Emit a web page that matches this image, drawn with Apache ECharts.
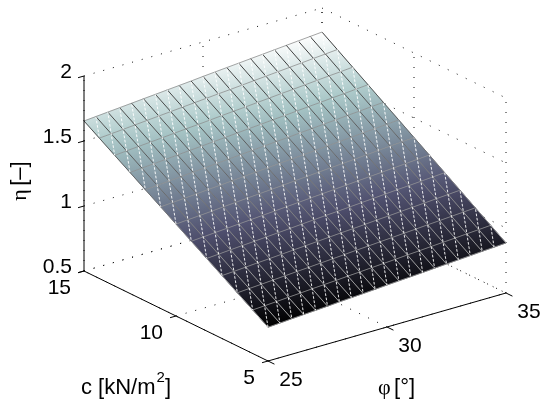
<!DOCTYPE html>
<html><head><meta charset="utf-8">
<style>html,body{margin:0;padding:0;background:#fff}#c{width:542px;height:405px}</style>
<script src="https://cdn.jsdelivr.net/npm/echarts@6/dist/echarts.min.js"></script>
</head><body><div id="c"></div>
<script>
const phiValues=[25,25.5,26,26.5,27,27.5,28,28.5,29,29.5,30,30.5,31,31.5,32,32.5,33,33.5,34,34.5,35];
const cValues=[5,5.833,6.667,7.5,8.333,9.167,10,10.833,11.667,12.5,13.333,14.167,15];
const etaRow0=[.760,.766,.773,.779,.785,.791,.798,.804,.810,.816,.823,.829,.835,.841,.848,.854,.860,.866,.873,.879,.885];
const etaRow1=[.835,.841,.847,.854,.860,.867,.873,.879,.886,.892,.899,.905,.911,.918,.924,.931,.937,.943,.950,.956,.963];
const etaRow2=[.909,.916,.922,.929,.935,.942,.948,.955,.961,.968,.975,.981,.988,.994,1.001,1.007,1.014,1.020,1.027,1.033,1.040];
const etaRow3=[.984,.990,.997,1.004,1.010,1.017,1.024,1.030,1.037,1.044,1.051,1.057,1.064,1.071,1.077,1.084,1.091,1.097,1.104,1.111,1.118];
const etaRow4=[1.058,1.065,1.072,1.079,1.085,1.092,1.099,1.106,1.113,1.120,1.127,1.133,1.140,1.147,1.154,1.161,1.168,1.174,1.181,1.188,1.195];
const etaRow5=[1.133,1.140,1.147,1.154,1.161,1.168,1.175,1.182,1.189,1.196,1.203,1.210,1.217,1.224,1.231,1.238,1.245,1.252,1.259,1.266,1.273];
const etaRow6=[1.207,1.214,1.221,1.228,1.236,1.243,1.250,1.257,1.264,1.271,1.279,1.286,1.293,1.300,1.307,1.314,1.321,1.329,1.336,1.343,1.350];
const etaRow7=[1.282,1.289,1.296,1.303,1.311,1.318,1.325,1.333,1.340,1.347,1.355,1.362,1.369,1.376,1.384,1.391,1.398,1.406,1.413,1.420,1.428];
const etaRow8=[1.356,1.363,1.371,1.378,1.386,1.393,1.401,1.408,1.416,1.423,1.431,1.438,1.445,1.453,1.460,1.468,1.475,1.483,1.490,1.498,1.505];
const etaRow9=[1.431,1.438,1.446,1.453,1.461,1.469,1.476,1.484,1.491,1.499,1.507,1.514,1.522,1.529,1.537,1.545,1.552,1.560,1.567,1.575,1.583];
const etaRow10=[1.505,1.513,1.521,1.528,1.536,1.544,1.552,1.559,1.567,1.575,1.583,1.590,1.598,1.606,1.614,1.621,1.629,1.637,1.645,1.652,1.660];
const etaRow11=[1.580,1.587,1.595,1.603,1.611,1.619,1.627,1.635,1.643,1.651,1.659,1.666,1.674,1.682,1.690,1.698,1.706,1.714,1.722,1.730,1.738];
const etaRow12=[1.654,1.662,1.670,1.678,1.686,1.694,1.702,1.710,1.718,1.726,1.735,1.743,1.751,1.759,1.767,1.775,1.783,1.791,1.799,1.807,1.815];
const etaRows=[etaRow0,etaRow1,etaRow2,etaRow3,etaRow4,etaRow5,etaRow6,etaRow7,etaRow8,etaRow9,etaRow10,etaRow11,etaRow12];
const phiTicks=[25,30,35];
const cTicks=[5,10,15];
const etaTicks=[0.5,1,1.5,2];
const etaTickLabels=['0.5','1','1.5','2'];

const PHI=[25,35],CC=[5,15],ETA=[0.5,2];
function proj(phi,c,eta){
  const a=(phi-PHI[0])/(PHI[1]-PHI[0]), b=(c-CC[0])/(CC[1]-CC[0]), h=(eta-ETA[0])/(ETA[1]-ETA[0]);
  return [268+238*a-184*b, 361-68*a-90*b-195*h];
}
const BONE=[[0,0,0,0],[.375,.319,.319,.444],[.75,.652,.777,.777],[1,1,1,1]];
const etaMin=etaRow0[0], etaMax=etaRow12[20];
function tOf(v){return (v-etaMin)/(etaMax-etaMin);}
function bone(v){
  const t=Math.max(0,Math.min(1,tOf(v)));
  for(let i=1;i<BONE.length;i++){ if(t<=BONE[i][0]){
    const A=BONE[i-1],B=BONE[i],f=(t-A[0])/(B[0]-A[0]);
    const m=k=>Math.round(255*(A[k]+(B[k]-A[k])*f));
    return `rgb(${m(1)},${m(2)},${m(3)})`; } }
  return '#fff';
}
function grey(v,lo,hi){const g=Math.round(lo+(hi-lo)*tOf(v));return `rgb(${g},${g},${g})`;}

const triangles=[],rowSegs=[],colSegs=[],diagRuns=[];
const nR=cValues.length,nC=phiValues.length;
for(let i=0;i<nR;i++)for(let j=0;j<nC;j++){
  const R=i+1<nR,C=j+1<nC;
  if(R&&C){triangles.push([i,j,i,j+1,i+1,j+1]);triangles.push([i,j,i+1,j+1,i+1,j]);}
  if(C)rowSegs.push([i,j,i,j+1]);
  if(R)colSegs.push([i,j,i+1,j]);
  if((i===0||j===0)&&R&&C){const run=[];let a=i,b=j;while(a<nR&&b<nC){run.push([a,b]);a++;b++;}diagRuns.push(run);}
}
function P(api,i,j){return api.coord(proj(phiValues[j],cValues[i],etaRows[i][j]));}
function triItem(params,api){
  const d=triangles[params.dataIndex];
  const ps=[P(api,d[0],d[1]),P(api,d[2],d[3]),P(api,d[4],d[5])];
  const vs=[etaRows[d[0]][d[1]],etaRows[d[2]][d[3]],etaRows[d[4]][d[5]]];
  const e1=[ps[1][0]-ps[0][0],ps[1][1]-ps[0][1]],e2=[ps[2][0]-ps[0][0],ps[2][1]-ps[0][1]];
  const det=e1[0]*e2[1]-e1[1]*e2[0],d1=vs[1]-vs[0],d2=vs[2]-vs[0];
  const gx=(d1*e2[1]-d2*e1[1])/det,gy=(e1[0]*d2-e2[0]*d1)/det,g2=gx*gx+gy*gy||1;
  let lo=0,hi=0;vs.forEach((v,k)=>{if(v<vs[lo])lo=k;if(v>vs[hi])hi=k;});
  const dv=vs[hi]-vs[lo];
  const s=ps[lo],ex=s[0]+gx*dv/g2,ey=s[1]+gy*dv/g2;
  const grad=new echarts.graphic.LinearGradient(s[0],s[1],ex,ey,[{offset:0,color:bone(vs[lo])},{offset:1,color:bone(vs[hi])}],true);
  return {type:'polygon',shape:{points:ps},style:{fill:grad,stroke:grad,lineWidth:.6}};
}
function segItem(list,styleFn){
  return function(params,api){
    const d=list[params.dataIndex];
    const a=P(api,d[0],d[1]),b=P(api,d[2],d[3]);
    const v=(etaRows[d[0]][d[1]]+etaRows[d[2]][d[3]])/2;
    return {type:'line',shape:{x1:a[0],y1:a[1],x2:b[0],y2:b[1]},style:styleFn(v)};
  };
}
function diagItem(params,api){
  const pts=diagRuns[params.dataIndex].map(q=>P(api,q[0],q[1]));
  return {type:'polyline',shape:{points:pts},style:{fill:'none',stroke:'#fff',lineWidth:.9,lineDash:[2.6,1.7],lineDashOffset:(params.dataIndex*1.37)%4.3}};
}
const gridLines=[];
etaTicks.forEach(z=>{gridLines.push([25,15,z,35,15,z]);gridLines.push([35,15,z,35,5,z]);});
phiTicks.forEach(p=>{gridLines.push([p,15,.5,p,15,2]);gridLines.push([p,5,.5,p,15,.5]);});
cTicks.forEach(c=>{gridLines.push([35,c,.5,35,c,2]);gridLines.push([25,c,.5,35,c,.5]);});
const axisLines=[[25,15,.5,25,15,2],[25,15,.5,25,5,.5],[25,5,.5,35,5,.5]];
etaTicks.forEach(z=>axisLines.push([25,15,z,24.75,15,z]));
cTicks.forEach(c=>axisLines.push([25,c,.5,24.75,c,.5]));
phiTicks.forEach(p=>axisLines.push([p,5,.5,p,4.65,.5]));
function line3(list,style){
  return function(params,api){
    const d=list[params.dataIndex];
    const a=api.coord(proj(d[0],d[1],d[2])),b=api.coord(proj(d[3],d[4],d[5]));
    return {type:'line',shape:{x1:a[0],y1:a[1],x2:b[0],y2:b[1]},style};
  };
}
const FONT='21px "Liberation Sans",Arial,sans-serif';
const NAMEFONT='22px "Liberation Sans",Arial,sans-serif';
const texts=[];
etaTicks.forEach((z,i)=>{const p=proj(25,15,z);texts.push({text:etaTickLabels[i],x:p[0]-12,y:p[1]-3.5,align:'right'});});
cTicks.forEach(c=>{const p=proj(25,c,.5);texts.push({text:String(c),x:p[0]-13,y:p[1]+17.5,align:'right'});});
phiTicks.forEach(v=>{const p=proj(v,5,.5);texts.push({text:String(v),x:p[0]+23,y:p[1]+19.5,align:'center'});});
function textItem(params,api){
  const t=texts[params.dataIndex],p=api.coord([t.x,t.y]);
  return {type:'text',x:p[0],y:p[1],style:{text:t.text,font:FONT,fill:'#000',align:t.align,verticalAlign:'middle'}};
}
const blank=list=>list.map((_,i)=>[i]);
const cust=(name,list,fn,z)=>({type:'custom',name,coordinateSystem:'cartesian2d',renderItem:fn,data:blank(list),silent:true,animation:false,z,clip:false,encode:{x:0,y:0}});
const serif='22px "Liberation Serif",serif';
const chart=echarts.init(document.getElementById('c'),null,{renderer:'canvas'});
chart.setOption({
  animation:false,backgroundColor:'#fff',
  grid:{left:0,right:0,top:0,bottom:0,containLabel:false},
  xAxis:{type:'value',min:0,max:542,show:false},
  yAxis:{type:'value',min:0,max:405,inverse:true,show:false},
  tooltip:{show:false},
  series:[
    cust('grid',gridLines,line3(gridLines,{stroke:'#111',lineWidth:1,lineDash:[1,9]}),1),
    cust('surface',triangles,triItem,2),
    cust('rows',rowSegs,segItem(rowSegs,v=>({stroke:grey(v,165,125),lineWidth:.7})),3),
    cust('cols',colSegs,segItem(colSegs,v=>({stroke:grey(v,185,35),lineWidth:.9})),3),
    cust('diag',diagRuns,diagItem,4),
    cust('axes',axisLines,line3(axisLines,{stroke:'#000',lineWidth:1}),5),
    cust('ticks',texts,textItem,6)
  ],
  graphic:[
    {type:'text',x:20,y:181,rotation:Math.PI/2,style:{rich:{s:{font:serif,fill:'#000'},t:{font:NAMEFONT,fill:'#000'}},text:'{s|η} {t|[–]}',align:'center',verticalAlign:'middle'}},
    {type:'text',x:81,y:388,style:{text:'c [kN/m',font:NAMEFONT,fill:'#000',align:'left',verticalAlign:'middle'}},
    {type:'text',x:156.5,y:378,style:{text:'2',font:'15px "Liberation Sans",Arial,sans-serif',fill:'#000',align:'left',verticalAlign:'middle'}},
    {type:'text',x:165,y:388,style:{text:']',font:NAMEFONT,fill:'#000',align:'left',verticalAlign:'middle'}},
    {type:'text',x:378,y:388,style:{rich:{s:{font:serif,fill:'#000'},t:{font:NAMEFONT,fill:'#000'}},text:'{s|φ} {t|[°]}',align:'left',verticalAlign:'middle'}}
  ]
});
</script></body></html>
